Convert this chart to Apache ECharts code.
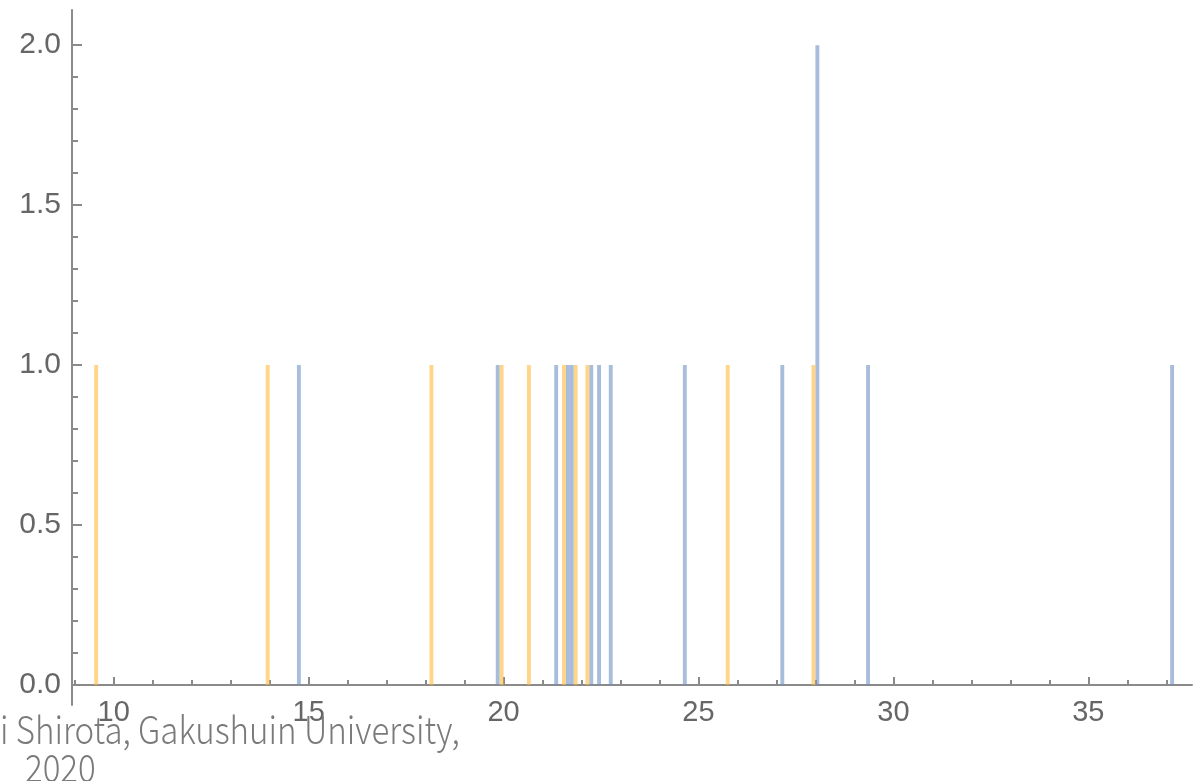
<!DOCTYPE html>
<html>
<head>
<meta charset="utf-8">
<script src="https://cdn.jsdelivr.net/npm/echarts@6/dist/echarts.min.js"></script>
<style>html,body{margin:0;padding:0;background:#fff;}#c{width:1202px;height:781px;}</style>
</head>
<body>
<div id="c"></div>
<script>
// ---- data ----
const binWidth = 0.1;
const blueBinStarts   = [14.7, 19.8, 21.3, 21.6, 21.7, 22.2, 22.4, 22.7, 24.6, 27.1, 28.0, 29.3, 37.1];
const blueCounts      = [1,    1,    1,    1,    1,    1,    1,    1,    1,    1,    2,    1,    1];
const orangeBinStarts = [9.5, 13.9, 18.1, 19.9, 20.6, 21.5, 21.8, 22.1, 25.7, 27.9];
const orangeCounts    = [1,   1,    1,    1,    1,    1,    1,    1,    1,    1];
const xMajorTicks = [10, 15, 20, 25, 30, 35];
const xMinorTicks = [9, 11, 12, 13, 14, 16, 17, 18, 19, 21, 22, 23, 24, 26, 27, 28, 29, 31, 32, 33, 34, 36, 37];
const yMajorTicks = [0, 0.5, 1.0, 1.5, 2.0];
const yMinorTicks = [0.1, 0.2, 0.3, 0.4, 0.6, 0.7, 0.8, 0.9, 1.1, 1.2, 1.3, 1.4, 1.6, 1.7, 1.8, 1.9];
const creditLines = ['i Shirota, Gakushuin University,', '2020'];

function bins(starts, counts) {
  return starts.map((s, i) => [s, s + binWidth, counts[i]]);
}
function renderBar(params, api) {
  const p0 = api.coord([api.value(0), api.value(2)]);
  const p1 = api.coord([api.value(1), 0]);
  return {
    type: 'rect',
    shape: { x: p0[0], y: p0[1], width: p1[0] - p0[0], height: p1[1] - p0[1] },
    style: api.style()
  };
}

const axisColor = '#8a8a8a';
const labelColor = '#666666';
const creditColor = '#7a7a7a';
const chart = echarts.init(document.getElementById('c'), null, { renderer: 'canvas' });
chart.setOption({
  animation: false,
  backgroundColor: '#ffffff',
  grid: { left: 72, right: 10, top: 10, bottom: 76, containLabel: false },
  xAxis: [
    {
      type: 'value', min: 8.93, max: 37.66, position: 'bottom',
      axisLine: { show: true, onZero: true, lineStyle: { color: axisColor, width: 2 } },
      axisTick: { show: true, inside: true, length: 8, customValues: xMajorTicks, lineStyle: { color: axisColor, width: 2 } },
      axisLabel: { show: true, customValues: xMajorTicks, margin: -7, color: labelColor, fontSize: 29, fontFamily: 'Liberation Sans',
        formatter: v => String(v) },
      splitLine: { show: false }
    },
    {
      type: 'value', min: 8.93, max: 37.66, position: 'bottom',
      axisLine: { show: false, onZero: true },
      axisTick: { show: true, inside: true, length: 5, customValues: xMinorTicks, lineStyle: { color: axisColor, width: 2 } },
      axisLabel: { show: false },
      splitLine: { show: false }
    }
  ],
  yAxis: [
    {
      type: 'value', min: -0.0625, max: 2.11, position: 'left',
      axisLine: { show: true, onZero: false, lineStyle: { color: axisColor, width: 2 } },
      axisTick: { show: true, inside: true, length: 10, customValues: yMajorTicks, lineStyle: { color: axisColor, width: 2 } },
      axisLabel: { show: true, customValues: yMajorTicks, margin: 11, color: labelColor, fontSize: 30, fontFamily: 'Liberation Sans',
        formatter: v => v.toFixed(1) },
      splitLine: { show: false }
    },
    {
      type: 'value', min: -0.0625, max: 2.11, position: 'left',
      axisLine: { show: false, onZero: false },
      axisTick: { show: true, inside: true, length: 6, customValues: yMinorTicks, lineStyle: { color: axisColor, width: 2 } },
      axisLabel: { show: false },
      splitLine: { show: false }
    }
  ],
  series: [
    {
      type: 'custom', name: 'blue', renderItem: renderBar, xAxisIndex: 0, yAxisIndex: 0,
      encode: { x: [0, 1], y: 2 },
      itemStyle: { color: 'rgba(110,145,195,0.6)' },
      data: bins(blueBinStarts, blueCounts)
    },
    {
      type: 'custom', name: 'orange', renderItem: renderBar, xAxisIndex: 0, yAxisIndex: 0,
      encode: { x: [0, 1], y: 2 },
      itemStyle: { color: 'rgba(255,185,60,0.6)' },
      data: bins(orangeBinStarts, orangeCounts)
    }
  ],
  graphic: [
    { type: 'text', x: 0, y: 711, scaleX: 0.87, z: 100,
      style: { text: creditLines[0], fontSize: 38, fontFamily: 'Noto Sans CJK JP', fontWeight: 300,
        fill: creditColor, textAlign: 'left' } },
    { type: 'text', x: 25, y: 749, scaleX: 0.87, z: 100,
      style: { text: creditLines[1], fontSize: 38, fontFamily: 'Noto Sans CJK JP', fontWeight: 300,
        fill: creditColor, textAlign: 'left' } }
  ]
});
</script>
</body>
</html>
